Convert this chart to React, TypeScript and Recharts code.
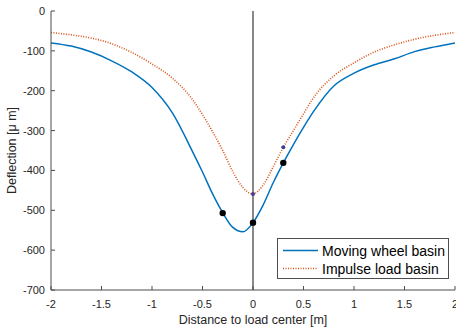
import {
  ComposedChart,
  Line,
  Scatter,
  XAxis,
  YAxis,
  ReferenceLine,
  Legend,
  Label,
} from "recharts";

// distance to load centre [m]
const distance = [
  -2, -1.8, -1.6, -1.4, -1.2, -1.0, -0.8, -0.6, -0.5, -0.4, -0.3, -0.2, -0.1, 0,
  0.1, 0.2, 0.3, 0.4, 0.5, 0.6, 0.8, 1.0, 1.2, 1.4, 1.6, 1.8, 2.0,
];
// deflection [um]
const movingWheel = [
  -80, -88, -103, -125, -153, -192, -255, -352, -404, -459, -506, -543, -554,
  -531, -487, -431, -381, -335, -292, -252, -188, -156, -135, -120, -102, -90, -80,
];
const impulseLoad = [
  -54, -60, -68, -82, -104, -133, -168, -222, -260, -303, -350, -403, -443,
  -459, -437, -391, -342, -300, -258, -217, -163, -130, -103, -85, -71, -61, -54,
];

// measured points
const wheelPointX = [-0.3, 0, 0.3];
const wheelPointY = [-507, -531, -381];
const impulsePointX = [0, 0.3];
const impulsePointY = [-459, -342];

const xTicks = [-2, -1.5, -1, -0.5, 0, 0.5, 1, 1.5, 2];
const yTicks = [-700, -600, -500, -400, -300, -200, -100, 0];

const wheelData = distance.map((x, i) => ({ x, y: movingWheel[i] }));
const impulseData = distance.map((x, i) => ({ x, y: impulseLoad[i] }));
const wheelPoints = wheelPointX.map((x, i) => ({ x, y: wheelPointY[i] }));
const impulsePoints = impulsePointX.map((x, i) => ({ x, y: impulsePointY[i] }));

const BLUE = "#0072BD";
const RED = "#D95319";
const AXIS = "#4d4d4d";
const TEXT = "#262626";
const FONT = "'Liberation Sans', Arial, Helvetica, sans-serif";

const XTick = (props: any) => {
  const { x, y, payload } = props;
  return (
    <g>
      <line x1={x} y1={y} x2={x} y2={y - 4} stroke={AXIS} />
      <text x={x} y={y + 17.5} textAnchor="middle" fill={TEXT} fontSize={11} fontFamily={FONT}>
        {payload.value}
      </text>
    </g>
  );
};

const YTick = (props: any) => {
  const { x, y, payload } = props;
  return (
    <g>
      <line x1={x} y1={y} x2={x + 4} y2={y} stroke={AXIS} />
      <text x={x - 6} y={y + 4} textAnchor="end" fill={TEXT} fontSize={11} fontFamily={FONT}>
        {payload.value}
      </text>
    </g>
  );
};

const YTitle = (props: any) => {
  const vb = props.viewBox;
  return (
    <text
      transform={`translate(16, ${vb.y + vb.height / 2}) rotate(-90)`}
      textAnchor="middle"
      fill={TEXT}
      fontSize={12.5}
      fontFamily={FONT}
    >
      Deflection [μ m]
    </text>
  );
};

const LegendBox = () => (
  <svg width={172} height={41} style={{ display: "block" }}>
    <rect x={0.5} y={0.5} width={171} height={40} fill="#fff" stroke={AXIS} />
    <line x1={6} y1={12.5} x2={41} y2={12.5} stroke={BLUE} strokeWidth={1.5} />
    <text x={45} y={17.5} fill="#000" fontSize={14} fontFamily={FONT}>
      Moving wheel basin
    </text>
    <line x1={6} y1={30.5} x2={41} y2={30.5} stroke={RED} strokeWidth={1.6} strokeDasharray="1 1.5" />
    <text x={45} y={35.5} fill="#000" fontSize={14} fontFamily={FONT}>
      Impulse load basin
    </text>
  </svg>
);

export default function App() {
  return (
    <div style={{ position: "absolute", left: 0, top: 0, background: "#fff" }}>
      <ComposedChart width={456} height={330} margin={{ top: 11, right: 1, bottom: 0, left: 0 }}>
        <XAxis
          dataKey="x"
          type="number"
          domain={[-2, 2]}
          ticks={xTicks}
          height={40}
          stroke={AXIS}
          tickLine={false}
          tickSize={0}
          tickMargin={0}
          tick={<XTick />}
          interval={0}
          allowDataOverflow
        >
          <Label
            value="Distance to load center [m]"
            position="insideBottom"
            offset={6}
            fill={TEXT}
            fontSize={12.5}
            fontFamily={FONT}
          />
        </XAxis>
        <XAxis
          xAxisId="top"
          orientation="top"
          type="number"
          domain={[-2, 2]}
          ticks={xTicks}
          height={0}
          mirror
          tick={false}
          tickSize={4}
          stroke={AXIS}
          interval={0}
        />
        <YAxis
          type="number"
          domain={[-700, 0]}
          ticks={yTicks}
          width={51}
          stroke={AXIS}
          tickLine={false}
          tickSize={0}
          tickMargin={0}
          tick={<YTick />}
          interval={0}
          allowDataOverflow
        >
          <Label content={<YTitle />} />
        </YAxis>
        <YAxis
          yAxisId="right"
          orientation="right"
          type="number"
          domain={[-700, 0]}
          ticks={yTicks}
          width={0}
          mirror
          tick={false}
          tickSize={4}
          stroke={AXIS}
          interval={0}
        />
        <ReferenceLine x={0} stroke="#3a3a3a" strokeWidth={1.2} />
        <Line
          data={wheelData}
          dataKey="y"
          type="monotone"
          stroke={BLUE}
          strokeWidth={1.5}
          dot={false}
          isAnimationActive={false}
          name="Moving wheel basin"
        />
        <Line
          data={impulseData}
          dataKey="y"
          type="monotone"
          stroke={RED}
          strokeWidth={1.6}
          strokeDasharray="1 1.5"
          dot={false}
          isAnimationActive={false}
          name="Impulse load basin"
        />
        <Scatter data={wheelPoints} dataKey="y" fill="#000" isAnimationActive={false} shape={(p: any) => <circle cx={p.cx} cy={p.cy} r={3.2} fill="#000" />} />
        <Scatter data={impulsePoints} dataKey="y" fill="#3d3f8f" isAnimationActive={false} shape={(p: any) => <circle cx={p.cx} cy={p.cy} r={2} fill="#3d3f8f" />} />
        <Legend
          layout="vertical"
          align="center"
          verticalAlign="middle"
          content={<LegendBox />}
          wrapperStyle={{ left: 277, top: 238, width: 172, height: 41 }}
        />
      </ComposedChart>
    </div>
  );
}
